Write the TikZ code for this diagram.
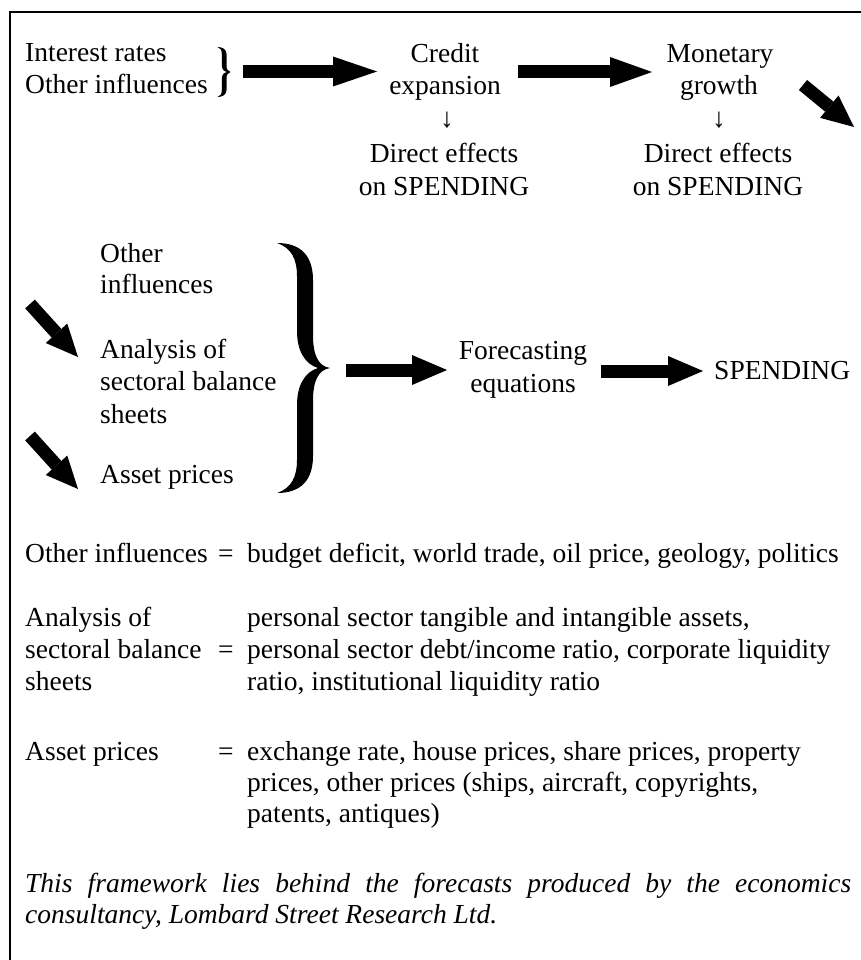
\documentclass[tikz,border=0pt]{standalone}
\usepackage{fontspec}
\setmainfont{Liberation Serif}
\usetikzlibrary{arrows.meta}
\newcommand{\fz}{\fontsize{27.5pt}{32pt}\selectfont}
\begin{document}
\begin{tikzpicture}[x=1pt,y=-1pt,
  lt/.style={inner sep=0pt,anchor=base west,font=\fz},
  ct/.style={inner sep=0pt,anchor=base,font=\fz},
  fat/.style={line width=13pt,-{Triangle[length=#1,width=30pt,line width=0pt]}},
  fat/.default=42pt,
  diag/.style={line width=13pt,-{Triangle[length=32pt,width=29pt,line width=0pt]}},
  frame/.style={line width=2.2pt}]
\useasboundingbox (0,0) rectangle (861,960);
% frame
\draw[frame] (10,960) -- (10,12) -- (861,12);

% ---- top row ----
\node[lt] (ir) at (25,62) {Interest rates};
\node[lt] (oi) at (25,94) {Other influences};
\fill (217.5,47) .. controls (222,47) and (226.5,49) .. (226.5,54) -- (226.5,65)
  .. controls (226.5,69) and (227.5,71.5) .. (230.5,72)
  .. controls (227.5,72.5) and (226.5,75) .. (226.5,79) -- (226.5,90)
  .. controls (226.5,95) and (222,97) .. (217.5,97)
  .. controls (220.5,96) and (221.8,94) .. (221.8,90) -- (221.8,79)
  .. controls (221.8,75) and (223.5,72.8) .. (227,72)
  .. controls (223.5,71.2) and (221.8,69) .. (221.8,65) -- (221.8,54)
  .. controls (221.8,50) and (220.5,48) .. (217.5,47) -- cycle;
\coordinate (a1s) at (243,71.5);
\coordinate (a1e) at (377,71.5);
\draw[fat=44pt] (a1s) -- (a1e);

\node[ct] (ce1) at (445,63) {Credit};
\node[ct] (ce2) at (445,95) {expansion};
\node[ct] (dn1) at (447,128) {↓};
\node[ct] (de1) at (444,163) {Direct effects};
\node[ct] (de2) at (444,195) {on SPENDING};

\coordinate (a2s) at (518,72);
\coordinate (a2e) at (652,72);
\draw[fat=42pt] (a2s) -- (a2e);

\node[ct] (mg1) at (720,63) {Monetary};
\node[ct] (mg2) at (719,95) {growth};
\node[ct] (dn2) at (719,128) {↓};
\node[ct] (de3) at (718,163) {Direct effects};
\node[ct] (de4) at (718,195) {on SPENDING};

\coordinate (a3s) at (803,85);
\coordinate (a3e) at (854,127);
\draw[diag] (a3s) -- (a3e);

% ---- middle ----
\node[lt] (o1) at (100,262) {Other};
\node[lt] (o2) at (100,293) {influences};
\node[lt] (an1) at (100,358) {Analysis of};
\node[lt] (an2) at (100,390) {sectoral balance};
\node[lt] (an3) at (100,423) {sheets};
\node[lt] (ap) at (100,483) {Asset prices};

\coordinate (d1s) at (30,304);
\coordinate (d1e) at (78,357);
\draw[diag] (d1s) -- (d1e);
\coordinate (d2s) at (30,436);
\coordinate (d2e) at (78,489);
\draw[diag] (d2s) -- (d2e);

\fill (277,243) .. controls (300,243) and (313,255) .. (313,280) -- (313,335)
  .. controls (313,355) and (318,366) .. (330,368)
  .. controls (318,370) and (313,381) .. (313,401) -- (313,456)
  .. controls (313,481) and (300,493) .. (277,493)
  .. controls (292,488) and (297,476) .. (297,460) -- (297,405)
  .. controls (297,385) and (305,372) .. (318,368)
  .. controls (305,364) and (297,351) .. (297,331) -- (297,276)
  .. controls (297,260) and (292,248) .. (277,243) -- cycle;

\coordinate (m1s) at (346,370);
\coordinate (m1e) at (447,370);
\draw[fat=35pt] (m1s) -- (m1e);

\node[ct] (fe1) at (523,359) {Forecasting};
\node[ct] (fe2) at (523,392) {equations};

\coordinate (m2s) at (601,371);
\coordinate (m2e) at (703,371);
\draw[fat=35pt] (m2s) -- (m2e);

\node[lt] (sp) at (714,379) {SPENDING};

% ---- definitions ----
\node[lt] (l1) at (25,562) {Other influences};
\node[lt] (e1) at (218,562) {=};
\node[lt] (t1) at (247,562) {budget deficit, world trade, oil price, geology, politics};

\node[lt] (l2a) at (25,626) {Analysis of};
\node[lt] (t2a) at (247,626) {personal sector tangible and intangible assets,};
\node[lt] (l2b) at (25,658) {sectoral balance};
\node[lt] (e2) at (218,658) {=};
\node[lt] (t2b) at (247,658) {personal sector debt/income ratio, corporate liquidity};
\node[lt] (l2c) at (25,690) {sheets};
\node[lt] (t2c) at (247,690) {ratio, institutional liquidity ratio};

\node[lt] (l3) at (25,760) {Asset prices};
\node[lt] (e3) at (218,760) {=};
\node[lt] (t3a) at (247,760) {exchange rate, house prices, share prices, property};
\node[lt] (t3b) at (247,791) {prices, other prices (ships, aircraft, copyrights,};
\node[lt] (t3c) at (247,822) {patents, antiques)};

\node[lt,font=\fz\itshape] (n1) at (25,892) {\makebox[826pt][s]{This framework lies behind the forecasts produced by the economics}};
\node[lt,font=\fz\itshape] (n2) at (25,923) {consultancy, Lombard Street Research Ltd.};
\end{tikzpicture}
\end{document}
